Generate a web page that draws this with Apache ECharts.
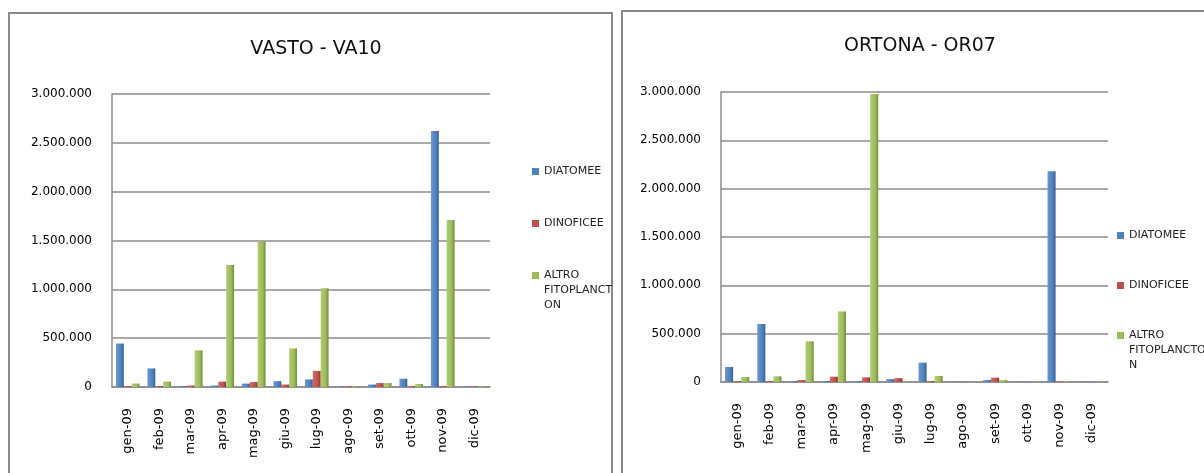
<!DOCTYPE html>
<html>
<head>
<meta charset="utf-8">
<script src="https://cdn.jsdelivr.net/npm/echarts@6/dist/echarts.min.js"></script>
<style>
  html, body { margin: 0; background: #fff; }
  #chart { width: 1204px; height: 473px; }
</style>
</head>
<body>
<div id="chart"></div>
<script>
// categories
const months = ['gen-09', 'feb-09', 'mar-09', 'apr-09', 'mag-09', 'giu-09',
                'lug-09', 'ago-09', 'set-09', 'ott-09', 'nov-09', 'dic-09']
const seriesNames = ['DIATOMEE', 'DINOFICEE', 'ALTRO FITOPLANCTON']
// legend text as wrapped in the two charts
const legendVasto = ['DIATOMEE', 'DINOFICEE', 'ALTRO\nFITOPLANCT\nON']
const legendOrtona = ['DIATOMEE', 'DINOFICEE', 'ALTRO\nFITOPLANCTO\nN']

// VASTO - VA10
const vastoDiatomee = [445000, 190000, 10000, 15000, 35000, 60000, 78000, 5000, 25000, 85000, 2620000, 5000]
const vastoDinoficee = [10000, 10000, 15000, 55000, 50000, 25000, 165000, 5000, 40000, 10000, 10000, 5000]
const vastoAltro = [35000, 55000, 375000, 1250000, 1490000, 395000, 1010000, 5000, 40000, 30000, 1710000, 5000]

// ORTONA - OR07
const ortonaDiatomee = [155000, 600000, 10000, 10000, 10000, 30000, 200000, 3000, 20000, 3000, 2180000, 3000]
const ortonaDinoficee = [10000, 10000, 20000, 55000, 48000, 40000, 10000, 3000, 45000, 3000, 5000, 3000]
const ortonaAltro = [52000, 59000, 421000, 730000, 2980000, 5000, 62000, 3000, 20000, 3000, 5000, 3000]

// y ticks
const yMax = 3000000
const yStep = 500000

const colors = ['#4F81BD', '#C0504D', '#9BBB59']
const darks = ['#365f91', '#8e3432', '#6f8a3a']
const lights = ['#6b97cf', '#d06a67', '#b0cd72']

const font = 'DejaVu Sans'

function barColor(i) {
  return new echarts.graphic.LinearGradient(0, 0, 1, 0, [
    { offset: 0, color: lights[i] },
    { offset: 0.65, color: colors[i] },
    { offset: 1, color: darks[i] }
  ])
}

function fmt(v) {
  return String(v).replace(/\B(?=(\d{3})+(?!\d))/g, '.')
}

// idx: which series names go in this legend; multi-line labels get blank
// lines in front so the square sits next to the first line, like Excel
function makeLegend(idx, left, top, gap, labels) {
  return {
    orient: 'vertical',
    left: left,
    top: top,
    itemGap: gap,
    itemWidth: 7,
    itemHeight: 7,
    icon: 'rect',
    textStyle: { fontFamily: font, fontSize: 11, color: '#222', lineHeight: 15 },
    formatter: function (name) {
      const t = labels[seriesNames.indexOf(name)]
      const n = t.split('\n').length - 1
      return '\n'.repeat(n) + t
    },
    data: idx.map(i => ({ name: seriesNames[i], itemStyle: { color: colors[i] } }))
  }
}

function makeX(grid) {
  return {
    type: 'category',
    gridIndex: grid,
    data: months,
    axisTick: { show: false },
    axisLine: { lineStyle: { color: '#8c8c8c', width: 1.5 } },
    axisLabel: { rotate: 90, margin: 21, fontFamily: font, fontSize: 13, color: '#000' }
  }
}

function makeY(grid) {
  return {
    type: 'value',
    gridIndex: grid,
    min: 0,
    max: yMax,
    interval: yStep,
    axisLine: { show: true, lineStyle: { color: '#8c8c8c', width: 1.5 } },
    axisTick: { show: false },
    splitLine: { lineStyle: { color: '#8c8c8c', width: 1.5 } },
    axisLabel: { margin: 20, fontFamily: font, fontSize: 12, color: '#000', formatter: fmt }
  }
}

function makeBars(grid, data) {
  return data.map((d, i) => ({
    name: seriesNames[i],
    type: 'bar',
    xAxisIndex: grid,
    yAxisIndex: grid,
    data: d,
    barGap: '0%',
    barCategoryGap: '25%',
    itemStyle: { color: barColor(i) }
  }))
}

const chart = echarts.init(document.getElementById('chart'))
const option = {
  backgroundColor: '#fff',
  animation: false,
  graphic: [
    { type: 'rect', shape: { x: 9, y: 13, width: 603, height: 480 }, style: { fill: 'none', stroke: '#8a8a8a', lineWidth: 2 } },
    { type: 'rect', shape: { x: 622, y: 11, width: 600, height: 480 }, style: { fill: 'none', stroke: '#8a8a8a', lineWidth: 2 } }
  ],
  title: [
    { text: 'VASTO - VA10', left: 311, top: 35, textAlign: 'center',
      textStyle: { fontFamily: font, fontSize: 19, fontWeight: 'normal', color: '#111' } },
    { text: 'ORTONA - OR07', left: 915, top: 32, textAlign: 'center',
      textStyle: { fontFamily: font, fontSize: 19, fontWeight: 'normal', color: '#111' } }
  ],
  legend: [
    makeLegend([0, 1], 527, 159, 37, legendVasto),
    makeLegend([2], 527, 233, 0, legendVasto),
    makeLegend([0, 1], 1112, 223, 35, legendOrtona),
    makeLegend([2], 1112, 293, 0, legendOrtona)
  ],
  grid: [
    { left: 112, top: 94, width: 378, height: 293 },
    { left: 721, top: 92, width: 387, height: 290 }
  ],
  xAxis: [makeX(0), makeX(1)],
  yAxis: [makeY(0), makeY(1)],
  series: [
    ...makeBars(0, [vastoDiatomee, vastoDinoficee, vastoAltro]),
    ...makeBars(1, [ortonaDiatomee, ortonaDinoficee, ortonaAltro])
  ]
}
chart.setOption(option)
</script>
</body>
</html>
